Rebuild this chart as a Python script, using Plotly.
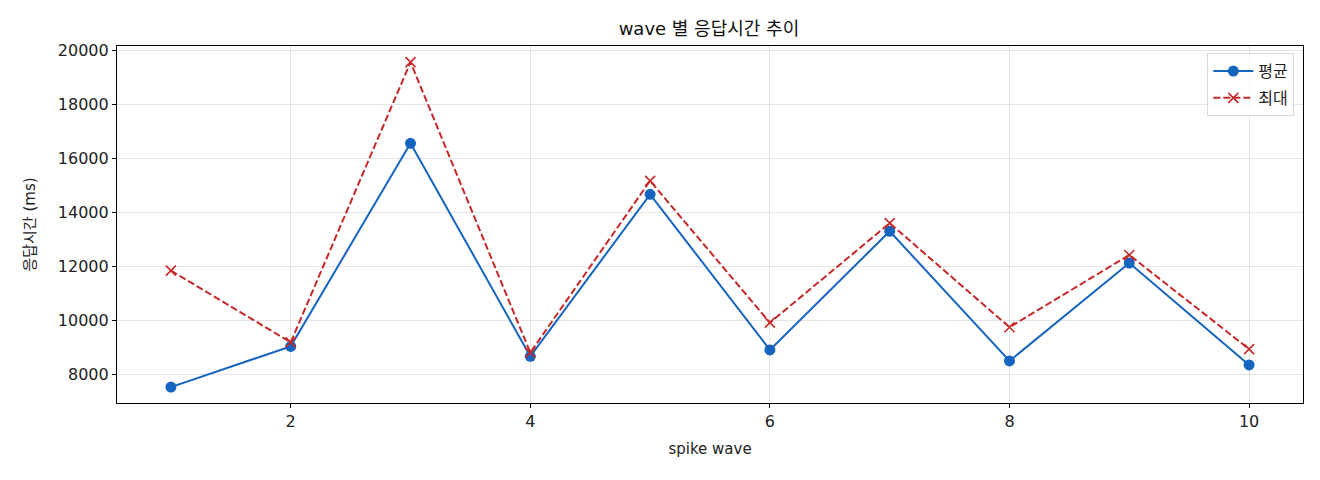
import plotly.graph_objects as go

# data
waves = [1, 2, 3, 4, 5, 6, 7, 8, 9, 10]
avg_ms = [7520, 9030, 16560, 8660, 14670, 8900, 13300, 8490, 12120, 8340]
max_ms = [11840, 9180, 19570, 8800, 15170, 9910, 13600, 9740, 12420, 8930]
y_ticks = [8000, 10000, 12000, 14000, 16000, 18000, 20000]
x_ticks = [2, 4, 6, 8, 10]

FONT = "DejaVu Sans, Noto Sans CJK KR"

fig = go.Figure()

# 평균 - solid blue with dots
fig.add_trace(go.Scatter(x=waves, y=avg_ms, mode='lines+markers', name='평균',
                         legendgroup='avg',
                         line=dict(color='#1565C0', width=2),
                         marker=dict(symbol='circle', size=11, color='#1565C0')))

# 최대 - dashed red with x marks
fig.add_trace(go.Scatter(x=waves, y=max_ms, mode='lines+markers', name='최대',
                         legendgroup='max',
                         line=dict(color='#C62828', width=2, dash='7px,3px'),
                         marker=dict(symbol='x-thin', size=10,
                                     line=dict(color='#C62828', width=1.6))))

axis_common = dict(showline=True, linecolor='black', linewidth=1.2, mirror=True,
                   ticks='outside', ticklen=4, tickcolor='black', tickwidth=1,
                   showgrid=True, gridcolor='rgba(0,0,0,0.1)', gridwidth=1,
                   zeroline=False, automargin=False,
                   tickfont=dict(family=FONT, size=16, color='#222'))

# page body adds an 8px offset, margins below account for that
fig.update_layout(
    width=1320, height=480,
    margin=dict(l=109, r=25, t=38, b=85),
    paper_bgcolor='white', plot_bgcolor='white',
    font=dict(family=FONT, color='#222'),
    title=dict(text='wave 별 응답시간 추이', x=0.531, xanchor='center',
               y=0.956, yanchor='middle', font=dict(size=18, color='#111')),
    legend=dict(x=0.9927, y=0.98, xanchor='right', yanchor='top',
                bgcolor='rgba(255,255,255,0.8)', bordercolor='#d9d9d9', borderwidth=1,
                font=dict(family="Noto Sans CJK KR", size=16), itemwidth=40,
                tracegroupgap=3),
    showlegend=True,
)

fig.update_xaxes(range=[0.55, 10.45], tickvals=x_ticks,
                 title=dict(text='spike wave', font=dict(size=15), standoff=13),
                 **axis_common)
fig.update_yaxes(range=[6930, 20170], tickvals=y_ticks, tickformat='d',
                 title=dict(text='응답시간 (ms)', font=dict(size=15), standoff=18),
                 **axis_common)

fig.write_html("out.html")
